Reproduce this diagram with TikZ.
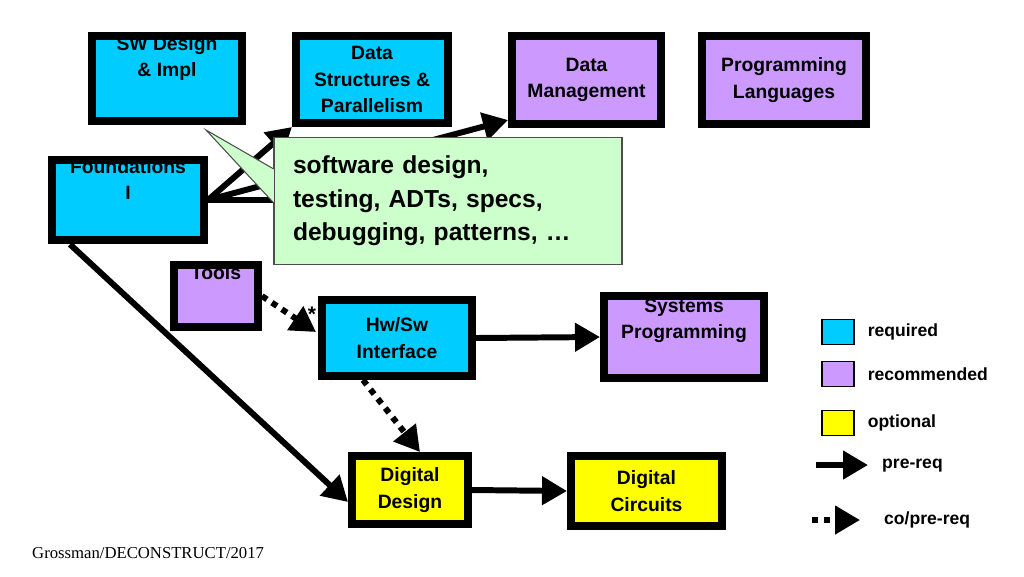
\documentclass[tikz,border=0pt]{standalone}
\usepackage{fontspec}
\setmainfont{Liberation Sans}
\newfontfamily\footfont{Liberation Serif}
\usetikzlibrary{arrows.meta, positioning, calc}
\definecolor{cReqFill}{RGB}{0, 204, 255}
\definecolor{cRecFill}{RGB}{204, 153, 255}
\definecolor{cOptFill}{RGB}{255, 255, 0}
\definecolor{cNoteFill}{RGB}{204, 255, 204}
\tikzset{
    % --- course boxes ---
    courseBox/.style={
        rectangle, draw=black, line width=4.5pt,
        align=center, font=\bfseries\fontsize{11}{15}\selectfont,
        inner sep=0pt
    },
    styleReq/.style={courseBox, fill=cReqFill},
    styleRec/.style={courseBox, fill=cRecFill},
    styleOpt/.style={courseBox, fill=cOptFill},
    % --- legend ---
    legendBox/.style={rectangle, draw=black, line width=0.6pt, minimum width=0.64cm, minimum height=0.5cm},
    legendText/.style={anchor=west, font=\bfseries\fontsize{10}{12}\selectfont},
    % --- connectors ---
    conn/.style={draw=black, line width=3.4pt, -{Triangle[length=5mm, width=5.5mm]}},
    connDotted/.style={conn, dash pattern=on 3.4pt off 3.4pt}
}
% course box from pixel corners
\newcommand{\course}[6]{%
    \node[#1, minimum width={(#4-#2)*0.02cm-4.5pt}, minimum height={(#5-#3)*0.02cm-4.5pt}] (#6) at ({(#2+#4)/2},{(#3+#5)/2})}
\begin{document}
\begin{tikzpicture}[x=0.02cm, y=-0.02cm]
    \useasboundingbox (0,0) rectangle (1024,576);

    % course boxes
    \course{styleReq}{88}{32}{246}{125}{swd} {SW Design\\\& Impl\\[10pt]};
    \course{styleReq}{292}{32}{452}{127}{ds} {Data\\Structures \&\\Parallelism};
    \course{styleRec}{508}{32}{665}{128}{dm} {Data\\Management};
    \course{styleRec}{698}{32}{870}{128}{pl} {Programming\\Languages};
    \course{styleReq}{48}{158}{208}{242}{found} {Foundations\\I\\[8pt]};
    \course{styleRec}{170}{262}{262}{330}{tools} {Tools\\[12pt]};
    \course{styleReq}{318}{296}{476}{380}{hwsw} {Hw/Sw\\Interface};
    \course{styleRec}{600}{292}{768}{382}{sys} {Systems\\Programming\\[6pt]};
    \course{styleOpt}{348}{452}{472}{528}{dd} {Digital\\Design};
    \course{styleOpt}{567}{452}{726}{530}{dc} {Digital\\Circuits};

    % connectors
    \draw[conn] (found.east) -- (ds.south west);
    \draw[conn] (found.east) -- ($(dm.south west)+(0,-8)$);
    \draw[conn, -] (found.east) -- ++(90,0) coordinate (hidden);
    \draw[conn] ($(found.south west)+(22,0)$) -- ($(dd.west)+(0,12)$);
    \draw[connDotted] (tools.east) -- ($(hwsw.west)+(-2,-6)$);
    \node[font=\bfseries\large] (star) at (312,314) {*};
    \draw[conn] (hwsw.east) -- (sys.west);
    \draw[connDotted] ($(hwsw.south west)+(45,0)$) -- ($(dd.north)+(10,0)$);
    \draw[conn] (dd.east) -- (dc.west);

    % callout
    \node[draw=black!70, line width=0.6pt, fill=cNoteFill, minimum width=348*0.02cm, minimum height=127*0.02cm,
          align=left, font=\bfseries\fontsize{14}{19}\selectfont, inner sep=0pt, text width=310*0.02cm]
        (note) at (448,201) {software design,\\testing, ADTs, specs,\\debugging, patterns, \dots};
    \coordinate (tip) at (206,130);
    \draw[draw=black!70, line width=0.6pt, fill=cNoteFill] ($(note.west)+(0.3,-32)$) -- (tip) -- ($(note.west)+(0.3,2)$);
    \fill[cNoteFill] ($(note.west)+(1.2,-31)$) rectangle ($(note.west)+(4,1)$);

    % legend
    \node[legendBox, fill=cReqFill] (lReq) at (838,332) {};
    \node[legendText, right=4pt of lReq] {required};
    \node[legendBox, fill=cRecFill] (lRec) at (838,374) {};
    \node[legendText, right=4pt of lRec] {recommended};
    \node[legendBox, fill=cOptFill] (lOpt) at (838,423) {};
    \node[legendText, right=4pt of lOpt] {optional};
    \coordinate (lPre) at (816,465);
    \draw[conn] (lPre) -- ++(52,0) coordinate (lPreEnd);
    \node[legendText] at (876,466) {pre-req};
    \coordinate (lCo) at (812,520);
    \draw[connDotted] (lCo) -- ++(48,0) coordinate (lCoEnd);
    \node[legendText] at (878,520) {co/pre-req};

    % footer
    \node[anchor=west, font=\footfont\fontsize{9.5}{11}\selectfont] (foot) at (26,553) {Grossman/DECONSTRUCT/2017};
\end{tikzpicture}
\end{document}
